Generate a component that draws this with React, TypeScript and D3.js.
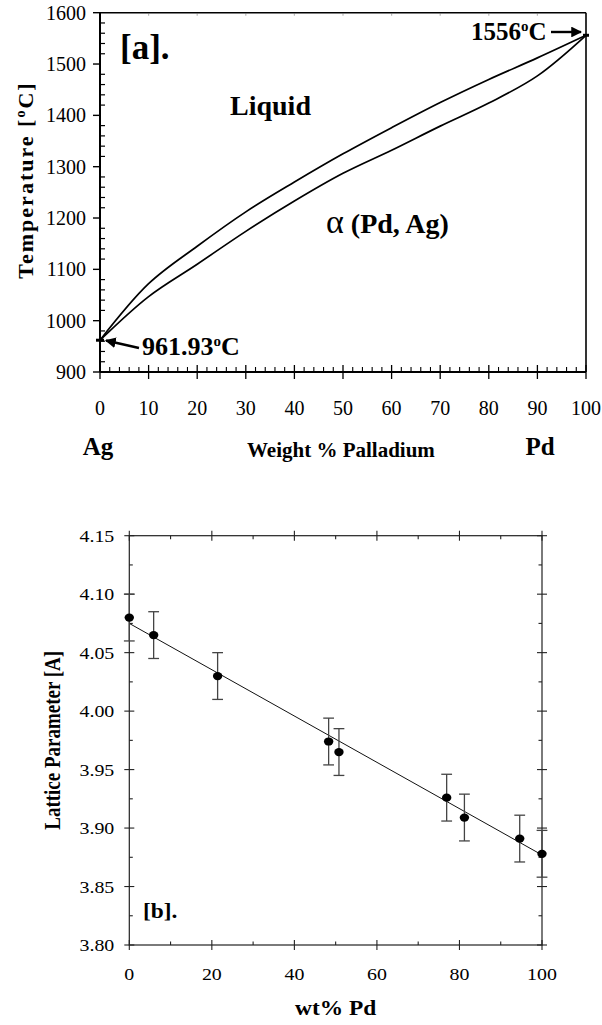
import React from "react";
import * as d3 from "d3";

// ---------- Panel [a]: Ag–Pd phase diagram ----------
const compA = [0, 10, 20, 30, 40, 50, 60, 70, 80, 90, 100];
const liquidus = [961.93, 1072, 1145, 1212, 1270, 1325, 1376, 1425, 1470, 1512, 1556];
const solidus = [961.93, 1047, 1110, 1174, 1233, 1287, 1332, 1379, 1424, 1477, 1556];
const tempTicks = [900, 1000, 1100, 1200, 1300, 1400, 1500, 1600];
const compTicksA = [0, 10, 20, 30, 40, 50, 60, 70, 80, 90, 100];

// ---------- Panel [b]: lattice parameter ----------
const wtPd = [0, 5.9, 21.4, 48.3, 50.8, 76.9, 81.2, 94.6, 100];
const lattice = [4.08, 4.065, 4.03, 3.974, 3.965, 3.926, 3.909, 3.891, 3.878];
const latticeErr = [0.02, 0.02, 0.02, 0.02, 0.02, 0.02, 0.02, 0.02, 0.02];
const fitX = [0, 100];
const fitY = [4.075, 3.877];
const latticeTicks = [3.8, 3.85, 3.9, 3.95, 4.0, 4.05, 4.1, 4.15];
const wtTicks = [0, 20, 40, 60, 80, 100];

const serif = "'Liberation Serif', 'Times New Roman', serif";
const SX = 1.17; // horizontal glyph stretch seen in panel b

function SText({ x, y, anchor, size, bold, children, rotate, ls }: any) {
  return (
    <g transform={`translate(${x},${y}) scale(${SX},1)${rotate ? ` rotate(${rotate})` : ""}`}>
      <text textAnchor={anchor || "start"} fontSize={size} fontWeight={bold ? "bold" : "normal"} dy={rotate ? 0 : undefined} letterSpacing={ls || 0}>
        {children}
      </text>
    </g>
  );
}

export default function App() {
  const xa = d3.scaleLinear().domain([0, 100]).range([100, 586]);
  const ya = d3.scaleLinear().domain([900, 1600]).range([372, 12.7]);
  const lineA = d3
    .line<[number, number]>()
    .x((d) => xa(d[0]))
    .y((d) => ya(d[1]))
    .curve(d3.curveCatmullRom.alpha(0.5));
  const liqPts = compA.map((c, i) => [c, liquidus[i]] as [number, number]);
  const solPts = compA.map((c, i) => [c, solidus[i]] as [number, number]);

  const minorXA = d3.range(0, 101, 2).filter((v) => v % 10 !== 0);
  const minorYA = d3.range(900, 1601, 20).filter((v) => v % 100 !== 0);

  const xb = d3.scaleLinear().domain([0, 100]).range([129.3, 542]);
  const yb = d3.scaleLinear().domain([3.8, 4.15]).range([945, 535.7]);
  const minorXB = [10, 30, 50, 70, 90];
  const minorYB = [3.825, 3.875, 3.925, 3.975, 4.025, 4.075, 4.125];
  const fitLine = d3
    .line<number>()
    .x((d, i) => xb(fitX[i]))
    .y((d) => yb(d));

  const [x0a, x1a] = xa.range();
  const [y0a, y1a] = [ya(900), ya(1600)];
  const [x0b, x1b] = xb.range();
  const [y0b, y1b] = [yb(3.8), yb(4.15)];

  return (
    <svg width={602} height={1025} style={{ display: "block", position: "absolute", left: 0, top: 0 }} fontFamily={serif}>
      <rect x={0} y={0} width={602} height={1025} fill="#fff" />
      {/* ===== Panel a ===== */}
      <g>
        {compTicksA.slice(1, -1).map((v) => (
          <line key={"tt" + v} x1={xa(v)} x2={xa(v)} y1={y1a + 1} y2={y1a + 3} stroke="#bbb" strokeWidth={1.2} />
        ))}
        <line x1={x0a} x2={x1a} y1={y1a} y2={y1a} stroke="#000" strokeWidth={1.6} />
        <line x1={x1a} x2={x1a} y1={y1a} y2={y0a} stroke="#000" strokeWidth={1.6} />
        <line x1={x0a} x2={x0a} y1={y1a} y2={y0a} stroke="#000" strokeWidth={2} />
        <line x1={x0a} x2={x1a} y1={y0a} y2={y0a} stroke="#000" strokeWidth={2} />
        {tempTicks.map((t) => (
          <g key={"yt" + t}>
            <line x1={x0a - 7} x2={x0a} y1={ya(t)} y2={ya(t)} stroke="#000" strokeWidth={1.4} />
            <text x={x0a - 14} y={ya(t)} dy="0.35em" textAnchor="end" fontSize={20}>
              {t}
            </text>
          </g>
        ))}
        {minorYA.map((t) => (
          <line key={"ym" + t} x1={x0a} x2={x0a + 5} y1={ya(t)} y2={ya(t)} stroke="#000" strokeWidth={1.2} />
        ))}
        {compTicksA.map((c) => (
          <g key={"xt" + c}>
            <line x1={xa(c)} x2={xa(c)} y1={y0a - 7} y2={y0a + 7} stroke="#000" strokeWidth={1.3} />
            <text x={xa(c)} y={415} textAnchor="middle" fontSize={20}>
              {c}
            </text>
          </g>
        ))}
        {minorXA.map((c) => (
          <line key={"xm" + c} x1={xa(c)} x2={xa(c)} y1={y0a - 5} y2={y0a} stroke="#000" strokeWidth={1.1} />
        ))}
        <path d={lineA(liqPts) || ""} fill="none" stroke="#000" strokeWidth={1.7} />
        <path d={lineA(solPts) || ""} fill="none" stroke="#000" strokeWidth={1.7} />
        <line x1={x0a - 4} x2={x0a + 4} y1={ya(liquidus[0])} y2={ya(liquidus[0])} stroke="#000" strokeWidth={3} />
        <line x1={x1a - 3} x2={x1a + 3} y1={ya(liquidus[liquidus.length - 1])} y2={ya(liquidus[liquidus.length - 1])} stroke="#000" strokeWidth={3} />
        <defs>
          <marker id="ah" viewBox="0 0 10 10" refX="9" refY="5" markerWidth="4.5" markerHeight="4.5" orient="auto">
            <path d="M0,0 L10,5 L0,10 z" fill="#000" />
          </marker>
        </defs>
        <line x1={139} y1={348} x2={106} y2={340.5} stroke="#000" strokeWidth={2.4} markerEnd="url(#ah)" />
        <line x1={551} y1={32} x2={581} y2={32} stroke="#000" strokeWidth={2.4} markerEnd="url(#ah)" />
        <text x={142} y={355} fontSize={26} fontWeight="bold">
          961.93<tspan fontSize={15} dy={-9}>o</tspan>
          <tspan dy={9}>C</tspan>
        </text>
        <text x={471} y={40} fontSize={25} fontWeight="bold">
          1556<tspan fontSize={15} dy={-9}>o</tspan>
          <tspan dy={9}>C</tspan>
        </text>
        <text x={120} y={59} fontSize={35} fontWeight="bold">
          [a].
        </text>
        <text x={230} y={115} fontSize={28} fontWeight="bold">
          Liquid
        </text>
        <text x={326} y={233} fontSize={28} fontWeight="bold">
          <tspan fontSize={34} fontWeight="normal">α</tspan> (Pd, Ag)
        </text>
        <text
          transform={`translate(33,180) rotate(-90)`}
          textAnchor="middle"
          fontSize={22}
          fontWeight="bold"
          letterSpacing={2}
        >
          Temperature [<tspan fontSize={14} dy={-8}>o</tspan>
          <tspan dy={8}>C]</tspan>
        </text>
        <text x={98} y={455} textAnchor="middle" fontSize={25} fontWeight="bold">
          Ag
        </text>
        <text x={247} y={457} fontSize={21} fontWeight="bold">
          Weight % Palladium
        </text>
        <text x={540} y={455} textAnchor="middle" fontSize={25} fontWeight="bold">
          Pd
        </text>
      </g>

      {/* ===== Panel b ===== */}
      <g>
        <rect x={x0b} y={y1b} width={x1b - x0b} height={y0b - y1b} fill="none" stroke="#222" strokeWidth={1.2} />
        {latticeTicks.map((t) => (
          <g key={"lt" + t}>
            <line x1={x0b - 5} x2={x0b + 5} y1={yb(t)} y2={yb(t)} stroke="#222" strokeWidth={1.1} />
            <line x1={x1b - 5} x2={x1b + 5} y1={yb(t)} y2={yb(t)} stroke="#222" strokeWidth={1.1} />
            <SText x={x0b - 15} y={yb(t) + 6} anchor="end" size={17}>
              {t.toFixed(2)}
            </SText>
          </g>
        ))}
        {minorYB.map((t) => (
          <g key={"lm" + t}>
            <line x1={x0b} x2={x0b + 3.5} y1={yb(t)} y2={yb(t)} stroke="#222" strokeWidth={1.1} />
            <line x1={x1b - 3.5} x2={x1b} y1={yb(t)} y2={yb(t)} stroke="#222" strokeWidth={1.1} />
          </g>
        ))}
        {wtTicks.map((v) => (
          <g key={"wt" + v}>
            <line x1={xb(v)} x2={xb(v)} y1={y0b - 5} y2={y0b + 5} stroke="#222" strokeWidth={1.1} />
            <line x1={xb(v)} x2={xb(v)} y1={y1b - 5} y2={y1b + 5} stroke="#222" strokeWidth={1.1} />
            <SText x={xb(v)} y={980} anchor="middle" size={17}>
              {v}
            </SText>
          </g>
        ))}
        {minorXB.map((v) => (
          <g key={"wm" + v}>
            <line x1={xb(v)} x2={xb(v)} y1={y0b - 3.5} y2={y0b} stroke="#222" strokeWidth={1.1} />
            <line x1={xb(v)} x2={xb(v)} y1={y1b} y2={y1b + 3.5} stroke="#222" strokeWidth={1.1} />
          </g>
        ))}
        <path d={fitLine(fitY) || ""} fill="none" stroke="#111" strokeWidth={1} />
        {wtPd.map((w, i) => (
          <g key={"pt" + i}>
            <line x1={xb(w)} x2={xb(w)} y1={yb(lattice[i] - latticeErr[i])} y2={yb(lattice[i] + latticeErr[i])} stroke="#444" strokeWidth={1.3} />
            <line x1={xb(w) - 5.4} x2={xb(w) + 5.4} y1={yb(lattice[i] - latticeErr[i])} y2={yb(lattice[i] - latticeErr[i])} stroke="#444" strokeWidth={1.3} />
            <line x1={xb(w) - 5.4} x2={xb(w) + 5.4} y1={yb(lattice[i] + latticeErr[i])} y2={yb(lattice[i] + latticeErr[i])} stroke="#444" strokeWidth={1.3} />
            <ellipse cx={xb(w)} cy={yb(lattice[i])} rx={4.7} ry={4.1} fill="#000" />
          </g>
        ))}
        <SText x={143} y={918} size={20} bold>
          [b].
        </SText>
        <SText x={(x0b + x1b) / 2} y={1015} anchor="middle" size={20} bold>
          wt% Pd
        </SText>
        <SText x={60} y={(y0b + y1b) / 2} anchor="middle" size={19} bold rotate={-90}>
          Lattice Parameter [A]
        </SText>
      </g>
    </svg>
  );
}
